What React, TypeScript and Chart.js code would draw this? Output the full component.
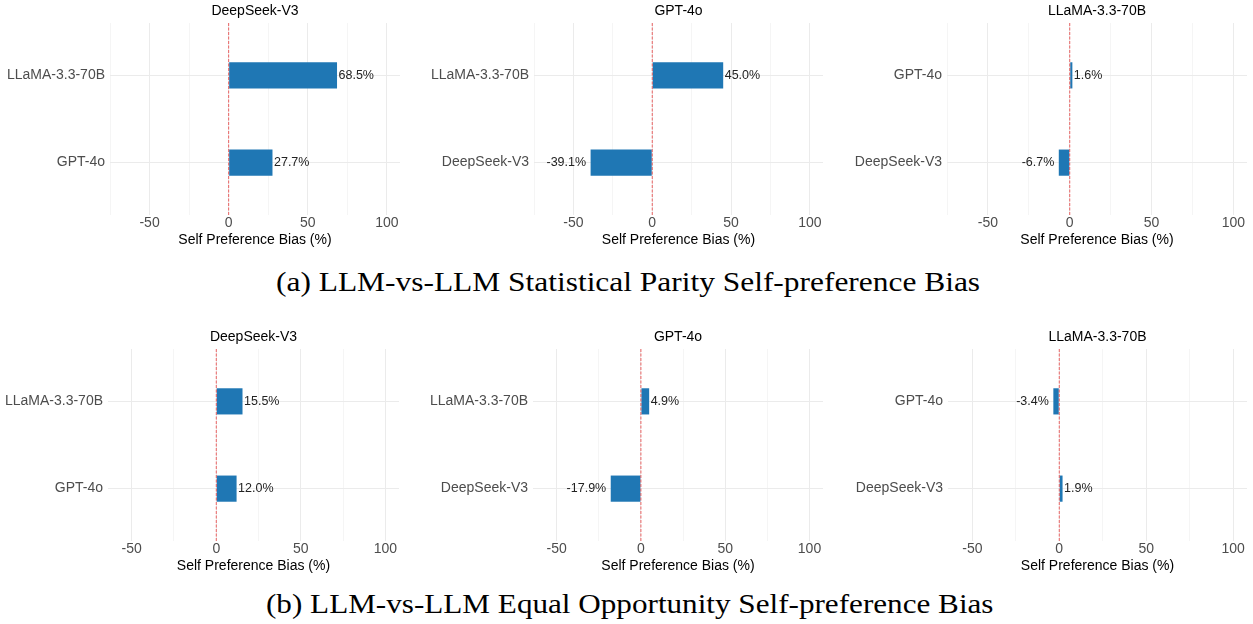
import React, { useEffect, useLayoutEffect, useRef, useState } from 'react';
import { Chart, registerables } from 'chart.js';

Chart.register(...registerables);

// Judge models (one facet per judge)
const judges = ['DeepSeek-V3', 'GPT-4o', 'LLaMA-3.3-70B'];

// Compared models for each judge, listed top to bottom
const deepseekTargets = ['LLaMA-3.3-70B', 'GPT-4o'];
const gptTargets = ['LLaMA-3.3-70B', 'DeepSeek-V3'];
const llamaTargets = ['GPT-4o', 'DeepSeek-V3'];

// (a) Statistical parity self-preference bias (%)
const parityDeepSeek = [68.5, 27.7];
const parityGpt = [45.0, -39.1];
const parityLlama = [1.6, -6.7];

// (b) Equal opportunity self-preference bias (%)
const opportunityDeepSeek = [15.5, 12.0];
const opportunityGpt = [4.9, -17.9];
const opportunityLlama = [-3.4, 1.9];

// Axis ticks: labelled every 50, minor grid every 25
const xTickValues = [-75, -50, -25, 0, 25, 50, 75, 100];
const xTitle = 'Self Preference Bias (%)';

const captionA = '(a) LLM-vs-LLM Statistical Parity Self-preference Bias';
const captionB = '(b) LLM-vs-LLM Equal Opportunity Self-preference Bias';

const SANS = '"Liberation Sans", Arial, sans-serif';
const BAR_BLUE = '#1f77b4';
const CANVAS_H = 250;

type PanelProps = {
  title: string;
  categories: string[];
  values: number[];
  xMin: number;
  xMax: number;
  left: number;
  top: number;
  width: number;
  axisWidth: number;
};

const zeroLinePlugin = {
  id: 'zeroLine',
  afterDatasetsDraw(chart: any) {
    const { ctx, chartArea, scales } = chart;
    const x0 = scales.x.getPixelForValue(0);
    ctx.save();
    ctx.strokeStyle = 'rgba(232, 40, 40, 0.7)';
    ctx.lineWidth = 1;
    ctx.setLineDash([3, 1.5]);
    ctx.beginPath();
    ctx.moveTo(x0, chartArea.top);
    ctx.lineTo(x0, chartArea.bottom);
    ctx.stroke();
    ctx.restore();
  },
};

const valueLabelPlugin = {
  id: 'valueLabels',
  afterDraw(chart: any) {
    const { ctx } = chart;
    const meta = chart.getDatasetMeta(0);
    const raw = chart.data.datasets[0].data as { x: number; y: number }[];
    ctx.save();
    ctx.font = `12.5px ${SANS}`;
    ctx.fillStyle = '#222222';
    ctx.textBaseline = 'middle';
    meta.data.forEach((bar: any, i: number) => {
      const v = raw[i].x;
      const { x, y } = bar.getProps(['x', 'y'], true);
      const text = `${v.toFixed(1)}%`;
      if (v >= 0) {
        ctx.textAlign = 'left';
        ctx.fillText(text, x + 1.5, y);
      } else {
        ctx.textAlign = 'right';
        ctx.fillText(text, x - 4.5, y);
      }
    });
    ctx.restore();
  },
};

const panelTitlePlugin = {
  id: 'panelTitle',
  afterDraw(chart: any, _args: any, opts: any) {
    const { ctx, chartArea } = chart;
    ctx.save();
    ctx.font = `14px ${SANS}`;
    ctx.fillStyle = '#000000';
    ctx.textAlign = 'center';
    ctx.textBaseline = 'middle';
    ctx.fillText(opts.text, (chartArea.left + chartArea.right) / 2, 11.5);
    ctx.restore();
  },
};

function Panel(p: PanelProps) {
  const ref = useRef<HTMLCanvasElement>(null);

  useEffect(() => {
    const canvas = ref.current;
    if (!canvas) return;
    const chart = new Chart(canvas, {
      type: 'bar',
      data: {
        datasets: [
          {
            data: p.values.map((v, i) => ({ x: v, y: i + 1 })),
            backgroundColor: BAR_BLUE,
            borderWidth: 0,
            barPercentage: 0.3,
            categoryPercentage: 1,
          },
        ],
      },
      options: {
        indexAxis: 'y',
        animation: false,
        responsive: false,
        maintainAspectRatio: false,
        events: [],
        layout: { padding: { top: 23, right: 0, bottom: 0, left: 0 } },
        plugins: {
          legend: { display: false },
          tooltip: { enabled: false },
          title: { display: false },
          panelTitle: { text: p.title },
        } as any,
        scales: {
          x: {
            type: 'linear',
            min: p.xMin,
            max: p.xMax,
            offset: false,
            afterBuildTicks: (s: any) => {
              s.ticks = xTickValues
                .filter((v) => v >= p.xMin && v <= p.xMax)
                .map((v) => ({ value: v }));
            },
            afterFit: (s: any) => {
              s.height = 35;
              s.paddingLeft = 0;
              s.paddingRight = 0;
            },
            ticks: {
              autoSkip: false,
              maxRotation: 0,
              padding: 0,
              color: '#4d4d4d',
              font: { family: SANS, size: 14 },
              callback: (v: any) => (Number(v) % 50 === 0 ? String(v) : ''),
            },
            grid: {
              drawTicks: false,
              offset: false,
              color: (c: any) =>
                c.tick && c.tick.value % 50 === 0 ? '#ebebeb' : '#f5f5f5',
              lineWidth: 1,
            },
            border: { display: false },
            title: {
              display: true,
              text: xTitle,
              color: '#000000',
              font: { family: SANS, size: 14 },
              padding: { top: 0, bottom: 1.2 },
            },
          },
          y: {
            type: 'linear',
            min: 0.4,
            max: 2.6,
            reverse: true,
            offset: false,
            afterBuildTicks: (s: any) => {
              s.ticks = p.categories.map((_, i) => ({ value: i + 1 }));
            },
            afterFit: (s: any) => {
              s.width = p.axisWidth;
              s.paddingTop = 0;
              s.paddingBottom = 0;
            },
            ticks: {
              padding: 5,
              color: '#4d4d4d',
              font: { family: SANS, size: 14 },
              callback: (_v: any, i: number) => p.categories[i],
            },
            grid: { drawTicks: false, offset: false, color: '#ebebeb', lineWidth: 1 },
            border: { display: false },
          },
        },
      } as any,
      plugins: [zeroLinePlugin, valueLabelPlugin, panelTitlePlugin],
    });
    return () => chart.destroy();
  }, []);

  return (
    <canvas
      ref={ref}
      width={p.width}
      height={CANVAS_H}
      style={{
        position: 'absolute',
        left: p.left,
        top: p.top,
        width: p.width,
        height: CANVAS_H,
      }}
    />
  );
}

function Caption({ text, left, top, width }: { text: string; left: number; top: number; width: number }) {
  const ref = useRef<HTMLSpanElement>(null);
  const [scale, setScale] = useState(1);
  useLayoutEffect(() => {
    if (ref.current && ref.current.offsetWidth > 0) {
      setScale(width / ref.current.offsetWidth);
    }
  }, []);
  return (
    <span
      ref={ref}
      style={{
        position: 'absolute',
        left,
        top,
        whiteSpace: 'nowrap',
        fontFamily: '"Liberation Serif", "Times New Roman", serif',
        fontSize: 27,
        lineHeight: '27px',
        color: '#000',
        transform: `scaleX(${scale})`,
        transformOrigin: 'left top',
      }}
    >
      {text}
    </span>
  );
}

const ROW_A_TOP = 0;
const ROW_B_TOP = 325.5;

export default function App() {
  return (
    <div
      style={{
        position: 'absolute',
        left: 0,
        top: 0,
        width: 1253,
        height: 624,
        background: '#ffffff',
        overflow: 'hidden',
      }}
    >
      <Panel title={judges[0]} categories={deepseekTargets} values={parityDeepSeek}
        xMin={-75} xMax={108.3} left={0} top={ROW_A_TOP} width={400} axisWidth={110} />
      <Panel title={judges[1]} categories={gptTargets} values={parityGpt}
        xMin={-75} xMax={108.3} left={420} top={ROW_A_TOP} width={403} axisWidth={114} />
      <Panel title={judges[2]} categories={llamaTargets} values={parityLlama}
        xMin={-75} xMax={108.3} left={836} top={ROW_A_TOP} width={411} axisWidth={111} />
      <Caption text={captionA} left={276} top={268.5} width={704} />

      <Panel title={judges[0]} categories={deepseekTargets} values={opportunityDeepSeek}
        xMin={-64} xMax={108} left={0} top={ROW_B_TOP} width={399} axisWidth={108} />
      <Panel title={judges[1]} categories={gptTargets} values={opportunityGpt}
        xMin={-64} xMax={108} left={420} top={ROW_B_TOP} width={403} axisWidth={113} />
      <Panel title={judges[2]} categories={llamaTargets} values={opportunityLlama}
        xMin={-64} xMax={108} left={836} top={ROW_B_TOP} width={411} axisWidth={112} />
      <Caption text={captionB} left={266} top={590.5} width={728} />
    </div>
  );
}
